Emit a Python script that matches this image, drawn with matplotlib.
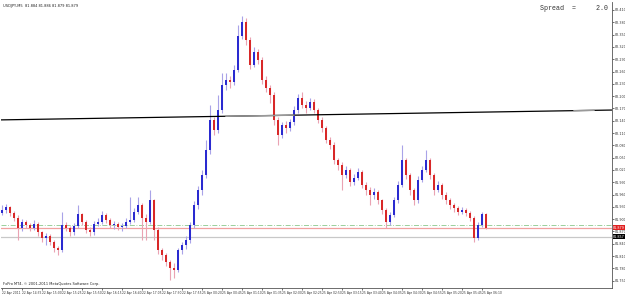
import matplotlib
matplotlib.use("Agg")
import matplotlib.pyplot as plt
import numpy as np

# USDJPY M5 candles (open of each bar = previous close)
first_open = 81.915
close = [81.922, 81.929, 81.915, 81.903, 81.878, 81.893, 81.885, 81.878, 81.888, 81.868,
         81.854, 81.859, 81.844, 81.830, 81.824, 81.885, 81.878, 81.868, 81.883, 81.912,
         81.893, 81.873, 81.868, 81.888, 81.893, 81.910, 81.898, 81.885, 81.888, 81.881,
         81.883, 81.893, 81.898, 81.917, 81.934, 81.903, 81.893, 81.946, 81.873, 81.824,
         81.812, 81.795, 81.781, 81.776, 81.824, 81.837, 81.849, 81.885, 81.934, 81.971,
         82.007, 82.068, 82.142, 82.117, 82.166, 82.227, 82.239, 82.234, 82.264, 82.347,
         82.381, 82.337, 82.276, 82.308, 82.288, 82.239, 82.220, 82.203, 82.142, 82.105,
         82.129, 82.122, 82.137, 82.166, 82.195, 82.178, 82.171, 82.186, 82.166, 82.142,
         82.122, 82.093, 82.081, 82.044, 82.032, 82.007, 82.020, 81.990, 82.000, 82.015,
         81.983, 81.971, 81.959, 81.966, 81.946, 81.922, 81.893, 81.910, 81.946, 81.983,
         82.044, 82.007, 81.971, 81.946, 81.995, 82.020, 82.044, 82.007, 81.971, 81.983,
         81.959, 81.946, 81.934, 81.927, 81.917, 81.922, 81.915, 81.903, 81.854, 81.885,
         81.912, 81.879]
high = [81.935, 81.936, 81.933, 81.920, 81.910, 81.900, 81.898, 81.890, 81.897, 81.892,
        81.872, 81.866, 81.863, 81.848, 81.835, 81.917, 81.892, 81.882, 81.890, 81.934,
        81.915, 81.898, 81.880, 81.895, 81.903, 81.920, 81.915, 81.903, 81.896, 81.894,
        81.890, 81.902, 81.954, 81.928, 81.954, 81.940, 81.912, 81.971, 81.950, 81.880,
        81.830, 81.818, 81.800, 81.792, 81.830, 81.845, 81.858, 81.892, 81.944, 81.980,
        82.020, 82.093, 82.178, 82.150, 82.203, 82.256, 82.256, 82.250, 82.275, 82.373,
        82.395, 82.390, 82.345, 82.320, 82.315, 82.295, 82.250, 82.228, 82.210, 82.150,
        82.138, 82.140, 82.145, 82.175, 82.205, 82.210, 82.188, 82.196, 82.192, 82.172,
        82.150, 82.128, 82.100, 82.088, 82.050, 82.040, 82.030, 82.025, 82.010, 82.025,
        82.020, 81.990, 81.978, 81.975, 81.970, 81.950, 81.928, 81.918, 81.955, 81.992,
        82.081, 82.050, 82.012, 81.975, 82.005, 82.030, 82.068, 82.050, 82.012, 81.992,
        81.988, 81.965, 81.952, 81.940, 81.932, 81.930, 81.928, 81.920, 81.908, 81.893,
        81.917, 81.914]
low = [81.910, 81.915, 81.908, 81.895, 81.849, 81.872, 81.878, 81.870, 81.873, 81.860,
       81.844, 81.837, 81.836, 81.820, 81.812, 81.820, 81.870, 81.860, 81.862, 81.878,
       81.886, 81.866, 81.858, 81.862, 81.882, 81.888, 81.890, 81.878, 81.876, 81.874,
       81.872, 81.878, 81.888, 81.893, 81.912, 81.849, 81.849, 81.888, 81.849, 81.815,
       81.800, 81.786, 81.751, 81.756, 81.770, 81.815, 81.828, 81.842, 81.878, 81.925,
       81.960, 82.000, 82.060, 82.105, 82.110, 82.158, 82.215, 82.220, 82.228, 82.258,
       82.340, 82.325, 82.265, 82.270, 82.278, 82.230, 82.210, 82.183, 82.130, 82.081,
       82.098, 82.110, 82.115, 82.130, 82.160, 82.170, 82.160, 82.165, 82.158, 82.135,
       82.112, 82.085, 82.070, 82.035, 82.020, 81.971, 82.000, 81.980, 81.982, 81.995,
       81.975, 81.960, 81.934, 81.950, 81.938, 81.912, 81.878, 81.886, 81.905, 81.940,
       81.978, 81.998, 81.960, 81.935, 81.940, 81.990, 82.015, 81.998, 81.960, 81.965,
       81.950, 81.938, 81.925, 81.918, 81.910, 81.912, 81.907, 81.895, 81.844, 81.850,
       81.880, 81.876]

price_ticks = [82.410, 82.380, 82.350, 82.320, 82.290, 82.260, 82.230, 82.200, 82.170,
               82.140, 82.110, 82.080, 82.050, 82.020, 81.990, 81.960, 81.930, 81.900,
               81.870, 81.840, 81.810, 81.780, 81.750]
date_labels = ["22 Apr 2011", "22 Apr 14:35", "22 Apr 15:00", "22 Apr 15:25", "22 Apr 15:50",
               "22 Apr 16:15", "22 Apr 16:40", "22 Apr 17:05", "22 Apr 17:30", "22 Apr 17:55",
               "25 Apr 00:20", "25 Apr 00:45", "25 Apr 01:10", "25 Apr 01:35", "25 Apr 02:00",
               "25 Apr 02:25", "25 Apr 02:50", "25 Apr 03:15", "25 Apr 03:40", "25 Apr 04:05",
               "25 Apr 04:30", "25 Apr 04:55", "25 Apr 05:20", "25 Apr 05:45", "25 Apr 06:10"]
bars_per_label = 5

bid = 81.879
ask_level = 81.886
gray_level = 81.857
trend_from, trend_to = 82.142, 82.166

W, H = 625, 295
fig = plt.figure(figsize=(W / 100, H / 100), dpi=100)
ax = fig.add_axes([1 / W, 1 - 288 / H, 611 / W, 286 / H])

opens = np.array([first_open] + close[:-1])
closes = np.array(close)
x = np.arange(len(closes))
up = closes >= opens

ax.vlines(x[up], np.array(low)[up], np.array(high)[up], color="#a9a3e8", lw=0.8, zorder=2)
ax.vlines(x[~up], np.array(low)[~up], np.array(high)[~up], color="#eaa3b3", lw=0.8, zorder=2)
body_lo = np.minimum(opens, closes)
body_h = np.maximum(np.abs(closes - opens), 0.0015)
ax.bar(x[up], body_h[up], bottom=body_lo[up], width=0.4, color="#2a2ad0", zorder=3)
ax.bar(x[~up], body_h[~up], bottom=body_lo[~up], width=0.4, color="#d82828", zorder=3)

xmin, xmax = -0.25, 152.5
ax.plot([xmin, xmax], [trend_from, trend_to], color="black", lw=0.9, zorder=4)
slope = (trend_to - trend_from) / (xmax - xmin)
for a, b in [(56, 73), (143, 148)]:
    ax.plot([a, b], [trend_from + slope * (a - xmin), trend_from + slope * (b - xmin)],
            color="#999999", lw=1.0, zorder=5)

ax.axhline(ask_level, color="#8cc88c", lw=0.6, ls=(0, (6, 2, 1, 2)), zorder=1)
ax.axhline(bid, color="#f0a0a0", lw=0.9, zorder=1)
ax.axhline(gray_level, color="#c8c8c8", lw=0.9, zorder=1)

ax.set_xlim(xmin, xmax)
ax.set_ylim(81.732, 82.4295)

ax.yaxis.tick_right()
ax.set_yticks(price_ticks)
ax.set_yticklabels([f"{p:.3f}" for p in price_ticks])
ax.tick_params(axis="y", labelsize=2.4, length=1.5, width=0.5, pad=0.5, colors="#333333")
ax.set_xticks(np.arange(len(date_labels)) * bars_per_label)
ax.set_xticklabels(date_labels, ha="left")
ax.tick_params(axis="x", labelsize=2.2, length=1.5, width=0.5, pad=0.5, colors="#333333")
for s in ax.spines.values():
    s.set_linewidth(0.6)
    s.set_color("#555555")
ax.spines["top"].set_visible(False)
ax.spines["left"].set_visible(False)

for price, bg in [(bid, "#e02020"), (gray_level, "black")]:
    ax.text(1.002, price, f"{price:.3f}", transform=ax.get_yaxis_transform(),
            fontsize=2.4, color="white", va="center", ha="left",
            bbox=dict(boxstyle="square,pad=0.2", fc=bg, ec="none"))

fig.text(3 / W, 1 - 6 / H, "USDJPY,M5  81.884 81.886 81.879 81.879",
         fontsize=2.6, va="center", ha="left", color="#222222")
fig.text(608 / W, 1 - 8 / H, "Spread  =     2.0", family="Liberation Mono",
         fontsize=4.8, va="center", ha="right", color="#333333")
fig.text(3 / W, 1 - 284 / H, "FxPro MT4, \u00a9 2001-2011 MetaQuotes Software Corp.",
         fontsize=2.6, va="center", ha="left", color="#222222")

fig.savefig("out.png", dpi=100, facecolor="white")
